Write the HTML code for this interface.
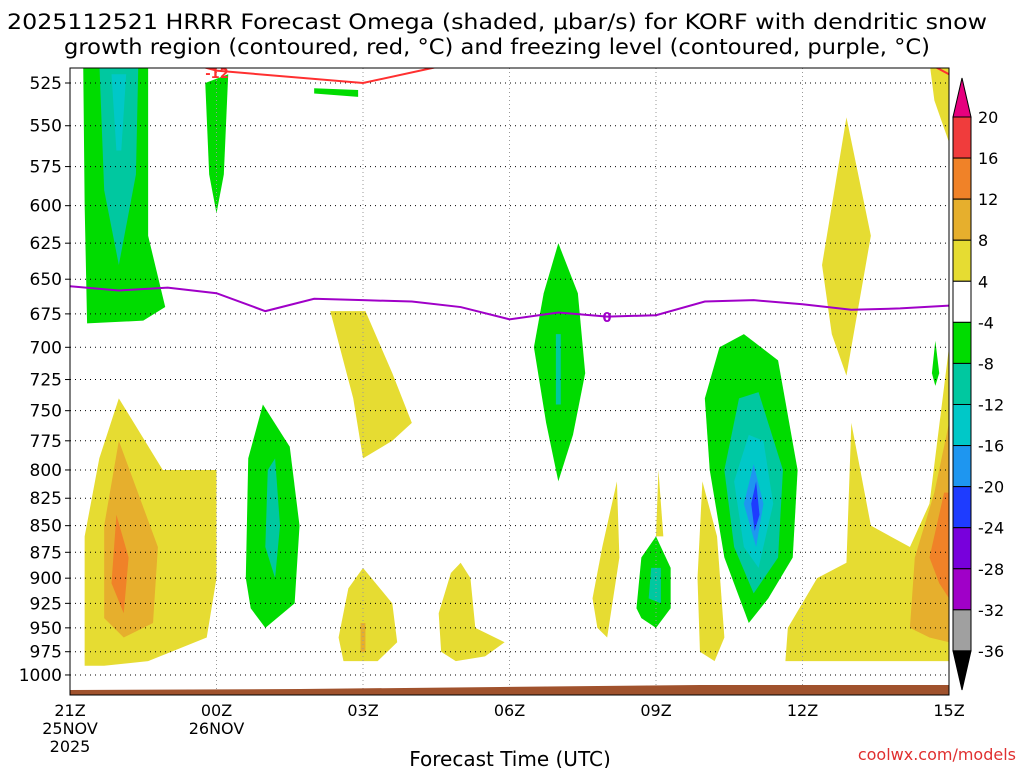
<!DOCTYPE html>
<html><head><meta charset="utf-8"><style>
body{margin:0;background:#fff;width:1024px;height:768px;overflow:hidden}
svg{display:block;font-family:"DejaVu Sans","Liberation Sans",sans-serif}
</style></head><body>
<svg id="c" width="1024" height="768"></svg>
<script>
// ---- data ----
const pressureTicks=[525,550,575,600,625,650,675,700,725,750,775,800,825,850,875,900,925,950,975,1000];
const timeTicks=[0,3,6,9,12,15,18];
const timeLabels=[["21Z","25NOV","2025"],["00Z","26NOV"],["03Z"],["06Z"],["09Z"],["12Z"],["15Z"]];
const cbLevels=[20,16,12,8,4,-4,-8,-12,-16,-20,-24,-28,-32,-36];
const cbColors=["#f03c3c","#f08228","#e6af2d","#e6dc32","#ffffff","#00dc00","#00c8a0","#00c8c8","#1e96f0","#1e3cff","#7800dc","#a000c8","#a0a0a0"];
const freezeHours=[0,1,2,3,4,5,6,7,8,9,10,11,12,13,14,15,16,17,18];
const freezeP=[655,658,656,660,673,664,665,666,670,679,674,677,676,666,665,668,672,671,669];
const dgzHours=[2.2,3.0,6.0,7.5];
const dgzP=[512,518,525,516];
const regions=[
 [5,[[0.27,513],[1.6,513],[1.6,620],[1.95,670],[1.5,680],[0.35,682],[0.3,600]]],
 [6,[[0.6,513],[1.4,513],[1.35,580],[1.0,640],[0.7,590]]],
 [7,[[0.85,520],[1.15,520],[1.05,565],[0.95,565]]],
 [5,[[2.77,525],[3.24,520],[3.15,580],[3.0,605],[2.85,580]]],
 [5,[[5.0,528],[5.9,529],[5.9,533],[5.0,531]]],
 [3,[[0.3,990],[0.3,860],[0.6,790],[1.0,740],[1.9,800],[3.0,800],[3.0,900],[2.8,960],[1.6,985],[0.7,990]]],
 [2,[[0.7,940],[0.7,850],[1.0,775],[1.8,870],[1.7,945],[1.1,960]]],
 [1,[[0.85,905],[0.95,840],[1.2,880],[1.1,935]]],
 [5,[[3.6,900],[3.65,790],[3.95,745],[4.5,780],[4.7,850],[4.6,925],[4.0,950],[3.7,930]]],
 [6,[[4.0,870],[4.05,800],[4.2,790],[4.3,850],[4.2,900]]],
 [3,[[5.33,673],[6.05,673],[6.6,720],[7.0,760],[6.6,775],[6.0,790],[5.8,740]]],
 [3,[[5.5,960],[5.7,910],[6.0,890],[6.6,925],[6.7,965],[6.3,985],[5.6,985]]],
 [2,[[5.95,945],[6.05,945],[6.05,975],[5.95,975]]],
 [3,[[7.55,935],[7.8,895],[8.0,885],[8.2,900],[8.3,950],[8.9,965],[8.5,980],[7.9,985],[7.6,975]]],
 [5,[[9.5,700],[9.7,660],[10.0,625],[10.4,660],[10.55,720],[10.3,770],[10.0,810],[9.75,760]]],
 [6,[[9.95,690],[10.05,690],[10.05,745],[9.95,745]]],
 [3,[[10.7,920],[10.9,870],[11.2,810],[11.25,880],[11.0,960],[10.8,950]]],
 [3,[[12.0,860],[12.05,800],[12.15,860]]],
 [5,[[11.6,930],[11.7,880],[12.0,860],[12.3,890],[12.3,930],[12.0,950],[11.7,940]]],
 [6,[[11.85,920],[11.9,890],[12.1,890],[12.1,925]]],
 [3,[[12.9,975],[12.85,900],[12.95,810],[13.25,860],[13.4,960],[13.2,985]]],
 [5,[[13.0,740],[13.3,700],[13.8,690],[14.5,710],[14.9,800],[14.8,880],[14.3,920],[13.9,945],[13.4,880],[13.1,800]]],
 [6,[[13.4,800],[13.7,740],[14.1,735],[14.6,800],[14.5,880],[14.0,915],[13.6,870]]],
 [7,[[13.6,810],[13.9,770],[14.2,775],[14.4,830],[14.1,890],[13.8,870]]],
 [8,[[13.8,830],[14.0,795],[14.2,830],[14.05,870]]],
 [9,[[13.95,830],[14.05,810],[14.12,840],[14.02,855]]],
 [3,[[15.4,640],[15.9,545],[16.4,620],[16.0,700],[15.9,722],[15.6,690]]],
 [3,[[14.65,985],[14.7,950],[15.3,900],[15.9,885],[16.0,760],[16.4,850],[17.2,870],[17.6,830],[18.0,700],[18.0,985]]],
 [2,[[17.2,950],[17.3,880],[17.7,820],[18.0,760],[18.0,965],[17.6,960]]],
 [1,[[17.6,880],[17.9,820],[18.0,820],[18.0,920],[17.8,905]]],
 [3,[[17.6,513],[18.0,513],[18.0,560],[17.7,535]]],
 [5,[[17.65,720],[17.72,695],[17.8,720],[17.72,730]]]
];
// ---- axes ----
const L=70,R=949,T=68,B=695;
const X=h=>L+(R-L)*h/18;
const Y=p=>83+918.7*Math.log(p/525);
const NS="http://www.w3.org/2000/svg";
const svg=document.getElementById('c');
function mk(tag,attrs,parent){const e=document.createElementNS(NS,tag);for(const k in attrs)e.setAttribute(k,attrs[k]);(parent||svg).appendChild(e);return e;}
const defs=mk('defs',{});const cp=mk('clipPath',{id:'pc'},defs);mk('rect',{x:L,y:T,width:R-L,height:B-T},cp);
const g=mk('g',{'clip-path':'url(#pc)'});


regions.forEach(r=>{
 const el=mk('polygon',{points:r[1].map(q=>X(q[0])+','+Y(q[1])).join(' '),fill:cbColors[r[0]]},g);
 
 
});
pressureTicks.forEach(p=>{
 const el=mk('line',{x1:L,x2:R,y1:Y(p),y2:Y(p),stroke:'#000','stroke-width':1,'stroke-dasharray':'1,4'},g);
 
 
});
timeTicks.forEach(t=>{
 const el=mk('line',{x1:X(t),x2:X(t),y1:T,y2:B,stroke:'#999','stroke-width':1,'stroke-dasharray':'1,3'},g);
 
 
});
const gr=mk('polygon',{points:`${L},690 300,689 500,687 700,685 ${R},685 ${R},${B} ${L},${B}`,fill:'#a0522d'},g);


const dl=mk('polyline',{points:dgzHours.map((h,i)=>X(h)+','+Y(dgzP[i])).join(' '),fill:'none',stroke:'#ff3030','stroke-width':2},g);


const dl2=mk('polyline',{points:`${X(17.45)},${Y(512)} ${X(18)},${Y(520)}`,fill:'none',stroke:'#ff3030','stroke-width':2},g);


const dt=mk('text',{x:217,y:78,'font-size':13,'font-weight':'bold',fill:'#ff3030','text-anchor':'middle'},g);dt.textContent='-12';


const fl=mk('polyline',{points:freezeHours.map((h,i)=>X(h)+','+Y(freezeP[i])).join(' '),fill:'none',stroke:'#a000c8','stroke-width':2},g);


const ft=mk('text',{x:607,y:322,'font-size':13,'font-weight':'bold',fill:'#a000c8','text-anchor':'middle'});ft.textContent='0';


const fr=mk('rect',{x:L,y:T,width:R-L,height:B-T,fill:'none',stroke:'#000','stroke-width':1});


pressureTicks.forEach(p=>{
 const t=mk('text',{x:62,y:Y(p)+6,'font-size':17,'text-anchor':'end',fill:'#000'});t.textContent=p;
 
 
 mk('line',{x1:L-5,x2:L,y1:Y(p),y2:Y(p),stroke:'#000'});
});
timeTicks.forEach((h,i)=>{
 timeLabels[i].forEach((s,j)=>{
  const t=mk('text',{x:X(h),y:716+j*18,'font-size':16,'text-anchor':'middle',fill:'#000'});t.textContent=s;
  
  
 });
});
const cx=953,cw=18,cbTop=117,step=41.07;
cbColors.forEach((c,i)=>{
 const r=mk('rect',{x:cx,y:cbTop+i*step,width:cw,height:step,fill:c,stroke:'#000','stroke-width':1});
 
 
});
const tu=mk('polygon',{points:`${cx},${cbTop} ${cx+cw},${cbTop} ${cx+cw/2},78`,fill:'#e6007e',stroke:'#000'});


const cbBot=cbTop+cbColors.length*step;
const td=mk('polygon',{points:`${cx},${cbBot} ${cx+cw},${cbBot} ${cx+cw/2},690`,fill:'#000',stroke:'#000'});


cbLevels.forEach((v,i)=>{
 const t=mk('text',{x:978,y:cbTop+i*step+6,'font-size':16,fill:'#000'});t.textContent=v;
 
 
});
[["2025112521 HRRR Forecast Omega (shaded, μbar/s) for KORF with dendritic snow",29,980],["growth region (contoured, red, °C) and freezing level (contoured, purple, °C)",54,866]].forEach(a=>{
 const t=mk('text',{x:497,y:a[1],'font-size':21,'text-anchor':'middle',fill:'#000',textLength:a[2],lengthAdjust:'spacingAndGlyphs'});t.textContent=a[0];
 
 
});
const xt=mk('text',{x:510,y:766,'font-size':20,'text-anchor':'middle',fill:'#000'});xt.textContent='Forecast Time (UTC)';


const cr=mk('text',{x:1016,y:760,'font-size':16,'text-anchor':'end',fill:'#e03030'});cr.textContent='coolwx.com/models';


</script>
</body></html>
